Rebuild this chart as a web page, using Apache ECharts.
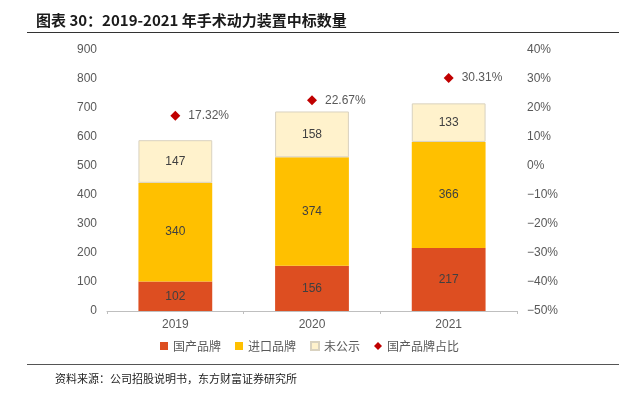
<!DOCTYPE html>
<html><head><meta charset="utf-8">
<script src="https://cdn.jsdelivr.net/npm/echarts@6/dist/echarts.min.js"></script>
<style>html,body{margin:0;padding:0;background:#fff;}#c{width:619px;height:393px;}</style>
</head><body><div id="c"></div>
<script>
const categories = ['2019', '2020', '2021'];
const domestic = [102, 156, 217];
const imported = [340, 374, 366];
const undisclosed = [147, 158, 133];
const domesticShare = [17.32, 22.67, 30.31];
const leftTicks = [0, 900, 100];
const rightTicks = [-50, 40, 10];

const chart = echarts.init(document.getElementById('c'), null, {renderer: 'canvas'});
const font = '"Noto Sans CJK SC", "Liberation Sans", sans-serif';
const labelStyle = {show: true, position: 'inside', color: '#404040', fontSize: 12, fontFamily: 'Liberation Sans'};
chart.setOption({
  animation: false,
  textStyle: {fontFamily: font},
  title: {
    text: '图表 30：2019-2021 年手术动力装置中标数量',
    left: 31, top: 8,
    textStyle: {fontSize: 15, fontWeight: 'bold', color: '#1a1a1a', fontFamily: font}
  },
  graphic: [
    {type: 'line', shape: {x1: 27, y1: 32.5, x2: 619, y2: 32.5}, style: {stroke: '#333', lineWidth: 1.2}},
    {type: 'line', shape: {x1: 27, y1: 364.5, x2: 619, y2: 364.5}, style: {stroke: '#555', lineWidth: 1.2}},
    {type: 'text', left: 55, top: 373, style: {text: '资料来源：公司招股说明书，东方财富证券研究所', fill: '#222', fontSize: 11, fontFamily: font}}
  ],
  legend: {
    bottom: 36, left: 'center',
    itemWidth: 8, itemHeight: 8, itemGap: 14,
    textStyle: {fontSize: 12, color: '#595959', fontFamily: font},
    data: [
      {name: '国产品牌', icon: 'rect'},
      {name: '进口品牌', icon: 'rect'},
      {name: '未公示', icon: 'rect'},
      {name: '国产品牌占比', icon: 'diamond'}
    ]
  },
  grid: {left: 107, right: 102, top: 50, bottom: 82},
  xAxis: {
    type: 'category', data: categories,
    axisLine: {lineStyle: {color: '#bfbfbf'}},
    axisTick: {show: true, length: 3, lineStyle: {color: '#bfbfbf'}},
    axisLabel: {color: '#595959', fontSize: 12, fontFamily: 'Liberation Sans', margin: 8}
  },
  yAxis: [
    {type: 'value', min: leftTicks[0], max: leftTicks[1], interval: leftTicks[2],
     splitLine: {show: false}, axisLine: {show: false}, axisTick: {show: false},
     axisLabel: {color: '#595959', fontSize: 12, fontFamily: 'Liberation Sans', margin: 10}},
    {type: 'value', min: rightTicks[0], max: rightTicks[1], interval: rightTicks[2],
     splitLine: {show: false}, axisLine: {show: false}, axisTick: {show: false},
     axisLabel: {color: '#595959', fontSize: 12, fontFamily: 'Liberation Sans', margin: 10,
       formatter: v => (v < 0 ? '\u2212' + Math.abs(v) : v) + '%'}}
  ],
  series: [
    {name: '国产品牌', type: 'bar', stack: 's', barWidth: '54%', data: domestic,
     itemStyle: {color: '#DD4E21'}, label: labelStyle},
    {name: '进口品牌', type: 'bar', stack: 's', data: imported,
     itemStyle: {color: '#FFC000'}, label: labelStyle},
    {name: '未公示', type: 'bar', stack: 's', data: undisclosed,
     itemStyle: {color: '#FFF2CC', borderColor: '#d9d2c0', borderWidth: 1}, label: labelStyle},
    {name: '国产品牌占比', type: 'scatter', yAxisIndex: 1, symbol: 'diamond', symbolSize: 10,
     data: domesticShare, itemStyle: {color: '#C00000', opacity: 1},
     label: {show: true, position: 'right', distance: 8, color: '#595959', fontSize: 12, fontFamily: 'Liberation Sans',
       formatter: p => p.value.toFixed(2) + '%'}}
  ]
});
</script></body></html>
